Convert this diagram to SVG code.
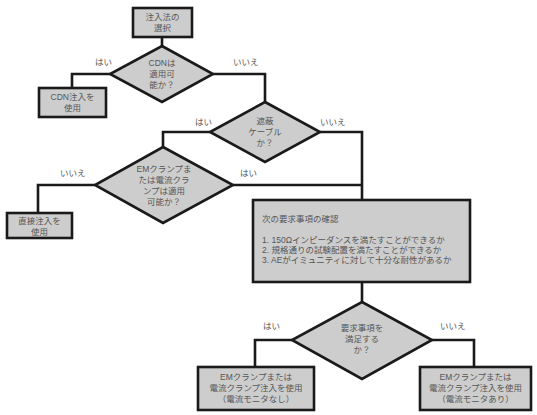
<svg xmlns="http://www.w3.org/2000/svg" width="537" height="415" viewBox="0 0 537 415">
<style>
.n{fill:#cdcdcd;stroke:#1a1a1a;stroke-width:2.6}
.c{fill:none;stroke:#1a1a1a;stroke-width:2.6}
text{font-family:"Liberation Sans","Noto Sans CJK JP",sans-serif;font-size:8.5px;fill:#555}
.m{text-anchor:middle}
</style>
<rect width="537" height="415" fill="#fff"/>
<g id="connectors">
<path class="c" d="M162 37V46"/>
<path class="c" d="M110 74H72V88"/>
<path class="c" d="M213 74H265V102"/>
<path class="c" d="M210 132H163V147"/>
<path class="c" d="M320 132H362V200"/>
<path class="c" d="M95 185H38V213"/>
<path class="c" d="M233 185H362"/>
<path class="c" d="M362 282V302"/>
<path class="c" d="M292 340H255V367"/>
<path class="c" d="M432 340H474V367"/>
<text x="95" y="65">はい</text>
<text x="233" y="65">いいえ</text>
<text x="195" y="125">はい</text>
<text x="320" y="125">いいえ</text>
<text x="60" y="176">いいえ</text>
<text x="240" y="176">はい</text>
<text x="263" y="329">はい</text>
<text x="440" y="329">いいえ</text>
</g>
<g id="start">
<rect class="n" x="133" y="8" width="59" height="29"/>
<text class="m" x="162.5" y="20">注入法の</text>
<text class="m" x="162.5" y="31">選択</text>
</g>
<g id="d1">
<polygon class="n" points="162,46 213,74 162,102 110,74"/>
<text class="m" x="162" y="66">CDNは</text>
<text class="m" x="162" y="77">適用可</text>
<text class="m" x="162" y="88">能か？</text>
</g>
<g id="cdn">
<rect class="n" x="39" y="88" width="67" height="29"/>
<text class="m" x="72.5" y="100">CDN注入を</text>
<text class="m" x="72.5" y="111">使用</text>
</g>
<g id="d2">
<polygon class="n" points="265,102 320,132 265,162 210,132"/>
<text class="m" x="265" y="124">遮蔽</text>
<text class="m" x="265" y="135">ケーブル</text>
<text class="m" x="265" y="146">か？</text>
</g>
<g id="d3">
<polygon class="n" points="163,147 233,185 163,223 95,185"/>
<text class="m" x="164" y="172">EMクランプま</text>
<text class="m" x="164" y="183">たは電流クラ</text>
<text class="m" x="164" y="194">ンプは適用</text>
<text class="m" x="164" y="205">可能か？</text>
</g>
<g id="direct">
<rect class="n" x="7" y="213" width="65" height="25"/>
<text class="m" x="39.5" y="224">直接注入を</text>
<text class="m" x="39.5" y="235">使用</text>
</g>
<g id="req">
<rect class="n" x="253" y="200" width="217" height="82"/>
<text x="262" y="222">次の要求事項の確認</text>
<text x="262" y="243">1. 150Ωインピーダンスを満たすことができるか</text>
<text x="262" y="253">2. 規格通りの試験配置を満たすことができるか</text>
<text x="262" y="263">3. AEがイミュニティに対して十分な耐性があるか</text>
</g>
<g id="d4">
<polygon class="n" points="362,302 432,340 362,379 292,340"/>
<text class="m" x="362" y="331">要求事項を</text>
<text class="m" x="362" y="342">満足する</text>
<text class="m" x="362" y="353">か？</text>
</g>
<g id="yes4">
<rect class="n" x="198" y="367" width="116" height="43"/>
<text class="m" x="256" y="380">EMクランプまたは</text>
<text class="m" x="256" y="391">電流クランプ注入を使用</text>
<text class="m" x="256" y="402">（電流モニタなし）</text>
</g>
<g id="no4">
<rect class="n" x="420" y="367" width="111" height="43"/>
<text class="m" x="475.5" y="380">EMクランプまたは</text>
<text class="m" x="475.5" y="391">電流クランプ注入を使用</text>
<text class="m" x="475.5" y="402">（電流モニタあり）</text>
</g>
</svg>
